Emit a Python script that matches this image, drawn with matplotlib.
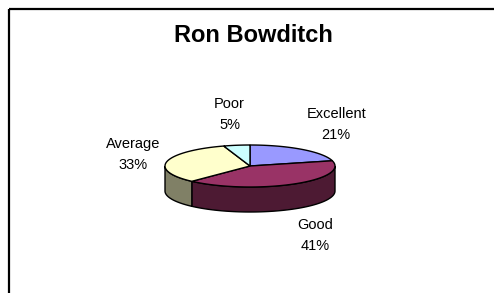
import matplotlib.pyplot as plt
import numpy as np
from matplotlib.patches import Polygon, Rectangle

categories = ["Excellent", "Good", "Average", "Poor"]
shares = [21, 41, 33, 5]
top_colors = ["#9999FF", "#993366", "#FFFFCC", "#CCFFFF"]
side_colors = ["#4D4D80", "#4D1A33", "#808066", "#668080"]
title = "Ron Bowditch"

W, H = 494, 293
cx, cy = 250, 166      # centre of top ellipse (px)
a, b = 85, 21          # semi-axes of top ellipse
depth = 25             # thickness of the pie


def arc(t0, t1, dy=0, n=80):
    t = np.radians(np.linspace(t0, t1, n))
    return np.column_stack([cx + a * np.cos(t), cy - b * np.sin(t) + dy])


plt.rcParams["font.family"] = ["Liberation Sans", "DejaVu Sans"]
fig = plt.figure(figsize=(W / 100, H / 100), dpi=100)
ax = fig.add_axes([0, 0, 1, 1])
ax.set_xlim(0, W)
ax.set_ylim(H, 0)
ax.axis("off")

fracs = np.array(shares) / sum(shares)
ends = 90 - 360 * np.cumsum(fracs)
starts = np.concatenate([[90], ends[:-1]])

# front sides (only the lower half of the ellipse is visible)
for s, e, c in zip(starts, ends, side_colors):
    for k in (-1, 0, 1):
        lo = max(e, -180 + 360 * k)
        hi = min(s, 0 + 360 * k)
        if hi > lo:
            pts = np.vstack([arc(hi, lo), arc(lo, hi, dy=depth)])
            ax.add_patch(Polygon(pts, closed=True, fc=c, ec="black", lw=1.0))

# top faces
for s, e, c in zip(starts, ends, top_colors):
    pts = np.vstack([[cx, cy], arc(s, e)])
    ax.add_patch(Polygon(pts, closed=True, fc=c, ec="black", lw=1.0))

# labels: anchored by the box edge nearest the pie
rx, ry = 92, 52
for s, e, name, val in zip(starts, ends, categories, shares):
    m = np.radians((s + e) / 2)
    cm, sm = np.cos(m), np.sin(m)
    if cm > 0.3:
        ha, lx = "left", cx + rx * cm
    elif cm < -0.3:
        ha, lx = "right", cx + rx * cm
    else:
        ha, lx = "center", cx + 130 * cm
    ly = cy - ry * sm + (depth if sm < 0 else 0)
    ax.text(lx, ly, f"{name}\n{val}%", ha=ha, va="center",
            multialignment="center", fontsize=10.5, linespacing=1.65,
            color="black")

ax.text(253, 35, title, ha="center", va="center", fontsize=17,
        fontweight="bold", color="black")

# chart frame (cut at the right and bottom edges)
ax.add_patch(Rectangle((9, 9), 600, 600, fill=False, ec="black", lw=1.6))

fig.savefig("out.png", dpi=100)
